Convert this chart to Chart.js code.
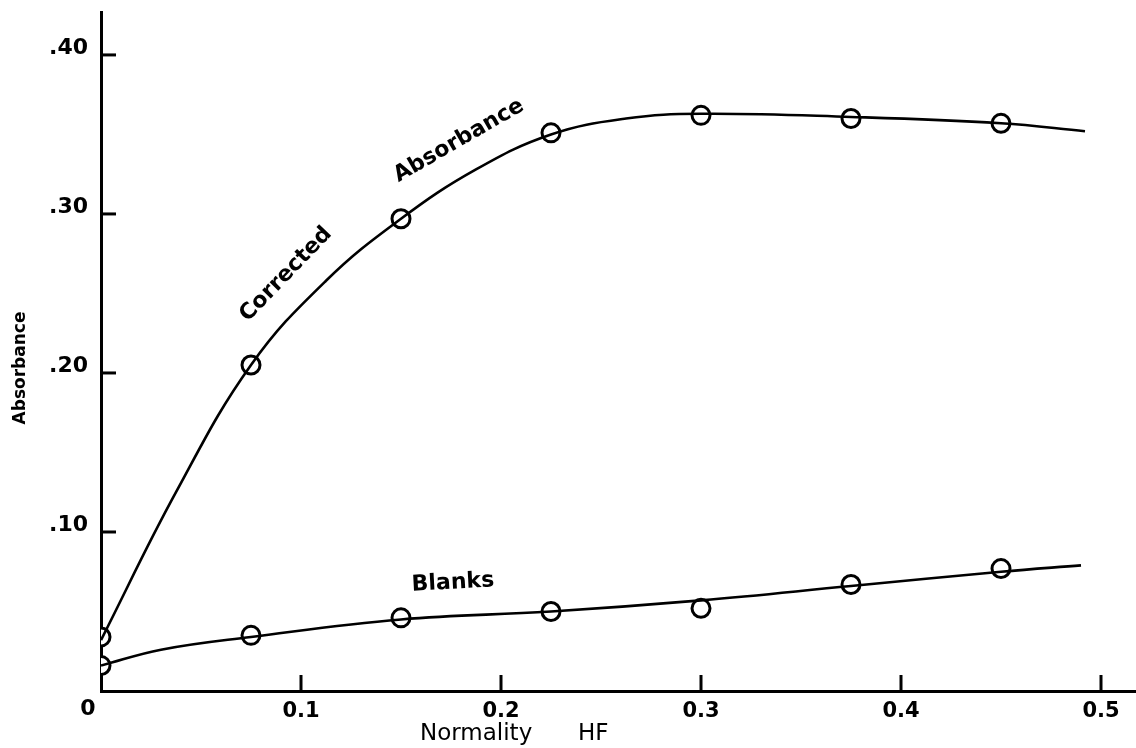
<!DOCTYPE html>
<html>
<head>
<meta charset="utf-8">
<script src="https://cdn.jsdelivr.net/npm/chart.js@4.4.0/dist/chart.umd.min.js"></script>
<style>
    html, body { margin: 0; padding: 0; background: #fff; overflow: hidden; }
    #my_chart { display: block; }
</style>
</head>
<body>
<canvas id="my_chart" width="1136" height="748"></canvas>
<script>
// measured points (circles)
const normality = [0, 0.075, 0.15, 0.225, 0.3, 0.375, 0.45];
const corrected_points = [0.034, 0.205, 0.297, 0.351, 0.362, 0.360, 0.357];
const blank_points = [0.016, 0.035, 0.046, 0.050, 0.052, 0.067, 0.077];

// hand drawn fitted curves
const corrected_curve_x = [0, 0.0375, 0.075, 0.1125, 0.15, 0.1875, 0.225, 0.2625, 0.3, 0.375, 0.45, 0.492];
const corrected_curve_y = [0.032, 0.125, 0.205, 0.258, 0.297, 0.328, 0.350, 0.360, 0.363, 0.361, 0.357, 0.352];
const blank_curve_x = [0, 0.03, 0.075, 0.15, 0.225, 0.3, 0.375, 0.45, 0.49];
const blank_curve_y = [0.016, 0.026, 0.034, 0.045, 0.050, 0.057, 0.066, 0.075, 0.079];

const x_ticks = [0.1, 0.2, 0.3, 0.4, 0.5];
const y_ticks = [0.1, 0.2, 0.3, 0.4];

const curve_labels = [
    { text: 'Corrected', x: 0.0925, y: 0.262, angle: -46 },
    { text: 'Absorbance', x: 0.179, y: 0.346, angle: -30 },
    { text: 'Blanks', x: 0.176, y: 0.068, angle: -3 }
];

function pairs(xs, ys) {
    return xs.map((x, i) => ({ x: x, y: ys[i] }));
}

const decor = {
    id: 'decor',
    afterDraw(chart) {
        const ctx = chart.ctx;
        const xs = chart.scales.x, ys = chart.scales.y;
        const area = chart.chartArea;
        ctx.save();
        ctx.strokeStyle = '#000';
        ctx.fillStyle = '#000';
        ctx.lineWidth = 3;
        // ticks point into the plot
        x_ticks.forEach(v => {
            const px = xs.getPixelForValue(v);
            ctx.beginPath();
            ctx.moveTo(px, area.bottom);
            ctx.lineTo(px, area.bottom - 16);
            ctx.stroke();
        });
        y_ticks.forEach(v => {
            const py = ys.getPixelForValue(v);
            ctx.beginPath();
            ctx.moveTo(area.left, py);
            ctx.lineTo(area.left + 15, py);
            ctx.stroke();
        });

        ctx.textAlign = 'center';
        ctx.textBaseline = 'middle';
        ctx.font = 'bold 22px "DejaVu Sans"';
        curve_labels.forEach(l => {
            ctx.save();
            ctx.translate(xs.getPixelForValue(l.x), ys.getPixelForValue(l.y));
            ctx.rotate(l.angle * Math.PI / 180);
            ctx.fillText(l.text, 0, 0);
            ctx.restore();
        });

        // origin label shared by both axes
        ctx.font = 'bold 22px "DejaVu Sans"';
        ctx.fillText('0', area.left - 13, 709);

        // axis titles
        ctx.font = '23px "DejaVu Sans"';
        ctx.textAlign = 'left';
        ctx.fillText('Normality', 420, 734);
        ctx.fillText('HF', 578, 734);

        ctx.save();
        ctx.translate(21, 368);
        ctx.rotate(-Math.PI / 2);
        ctx.textAlign = 'center';
        ctx.font = 'bold 17px "DejaVu Sans"';
        ctx.fillText('Absorbance', 0, 0);
        ctx.restore();

        ctx.restore();
    }
};

const circle_style = {
    showLine: false,
    pointStyle: 'circle',
    pointRadius: 9,
    pointBackgroundColor: '#fff',
    pointBorderColor: '#000',
    pointBorderWidth: 3,
    clip: { left: 0, top: false, right: false, bottom: false }
};
const dot_style = {
    showLine: false,
    pointRadius: 1.6,
    pointBackgroundColor: '#000',
    pointBorderWidth: 0,
    clip: { left: 0, top: false, right: false, bottom: false }
};
const curve_style = {
    type: 'line',
    showLine: true,
    borderColor: '#000',
    borderWidth: 2.6,
    pointRadius: 0,
    fill: false,
    tension: 0.4
};

const ctx = document.getElementById('my_chart').getContext('2d');
window.my_chart = new Chart(ctx, {
    type: 'scatter',
    data: {
        datasets: [
            Object.assign({ label: 'Corrected curve', data: pairs(corrected_curve_x, corrected_curve_y) }, curve_style),
            Object.assign({ label: 'Blanks curve', data: pairs(blank_curve_x, blank_curve_y) }, curve_style),
            Object.assign({ label: 'Corrected', data: pairs(normality, corrected_points) }, circle_style),
            Object.assign({ label: 'Blanks', data: pairs(normality, blank_points) }, circle_style),
            Object.assign({ label: 'Corrected dot', data: pairs(normality, corrected_points) }, dot_style),
            Object.assign({ label: 'Blanks dot', data: pairs(normality, blank_points) }, dot_style)
        ]
    },
    options: {
        responsive: false,
        animation: false,
        layout: { autoPadding: false, padding: { top: 12, right: 0, left: 0, bottom: 0 } },
        plugins: {
            legend: { display: false },
            tooltip: { enabled: false }
        },
        scales: {
            x: {
                type: 'linear',
                min: 0,
                max: 0.5175,
                z: 1,
                grid: { display: false, drawTicks: false },
                border: { display: true, color: '#000', width: 3 },
                ticks: {
                    stepSize: 0.1,
                    includeBounds: false,
                    maxRotation: 0,
                    padding: 8,
                    color: '#000',
                    font: { family: 'DejaVu Sans', size: 21, weight: 'bold' },
                    callback: v => v === 0 ? '' : v.toFixed(1)
                },
                afterFit: s => {
                    s.height = 57;
                    s.paddingLeft = 0;
                    s.paddingRight = 0;
                }
            },
            y: {
                type: 'linear',
                min: 0,
                max: 0.427,
                z: 1,
                grid: { display: false, drawTicks: false },
                border: { display: true, color: '#000', width: 3 },
                ticks: {
                    stepSize: 0.1,
                    includeBounds: false,
                    padding: 13,
                    labelOffset: -7,
                    color: '#000',
                    font: { family: 'DejaVu Sans', size: 22, weight: 'bold' },
                    callback: v => v === 0 ? '' : '.' + Math.round(v * 100)
                },
                afterFit: s => {
                    s.width = 101;
                    s.paddingTop = 0;
                    s.paddingBottom = 0;
                }
            }
        }
    },
    plugins: [decor]
});
</script>
</body>
</html>
